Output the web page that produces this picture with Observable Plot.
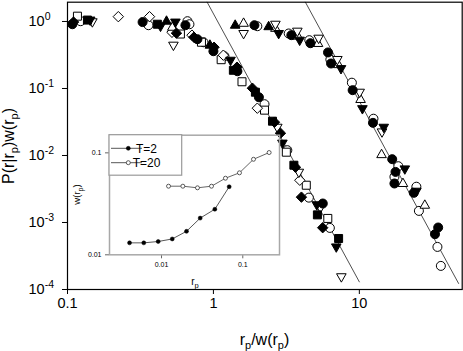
<!DOCTYPE html>
<html><head><meta charset="utf-8">
<script src="https://cdn.jsdelivr.net/npm/d3@7"></script>
<script src="https://cdn.jsdelivr.net/npm/@observablehq/plot@0.6"></script>
<style>
body{margin:0;background:#fff;}
#wrap{position:relative;width:463px;height:351px;overflow:hidden;}
#wrap svg{position:absolute;left:0;top:0;}
</style></head><body><div id="wrap"></div>
<script>
// ---- main data: [rp/w(rp), P(r|rp)w(rp)] ----
const filledCircle = [[0.108,0.91],[0.327,0.98],[0.643,0.88],[0.777,0.544],[1.0,0.36],[1.46,0.181],[2.05,0.074],[5.62,0.00192],
  [1.91,0.88],[3.42,0.625],[4.62,0.474],[6.1,0.345],[6.4,0.236],[9.0,0.0944],[12.4,0.0307],[16.8,0.00881],[17.7,0.00569],[17.4,0.00382],[23.6,0.00277],[34.7,0.000842],[33,0.000669]];
const openCircle = [[0.123,1.01],[0.359,0.88],[0.664,1.01],[0.685,0.91],[0.855,0.49],[1.19,0.303],[2.24,0.0583],[3.21,0.012],[4.51,0.00235],[6.28,0.00083],
  [2.0,0.85],[3.28,0.662],[4.54,0.526],[6.33,0.271],[8.89,0.122],[12.5,0.0354],[18.5,0.00692],[17.4,0.0048],[24.6,0.00342],[25.6,0.00149],[34.3,0.000432],[36.2,0.000225]];
const filledSquare = [[0.137,1.05],[0.413,0.91],[1.37,0.187],[1.94,0.088],[2.54,0.0325],[3.56,0.00716],[5.16,0.0013],[7.21,0.000577]];
const openSquare = [[0.117,1.2],[0.594,0.65],[0.828,0.49],[1.13,0.269],[1.57,0.126],[2.24,0.0475],[3.16,0.0112],[4.33,0.0036],[6.08,0.00115]];
const filledDiamond = [[0.110,0.98],[0.558,0.67],[0.735,0.583],[1.01,0.413],[1.45,0.208],[1.85,0.101],[2.62,0.0314],[2.88,0.0215],[3.65,0.00668],[4.01,0.00239],[5.61,0.000836]];
const openDiamond = [[0.223,1.18],[0.365,1.18],[0.52,0.69],[0.713,0.625],[1.17,0.314],[2.0,0.0508],[3.91,0.00427]];
const filledUp = [[0.477,1.01],[0.946,0.443],[1.41,0.88],[2.39,0.836]];
const openUp = [[0.523,0.82],[1.61,0.94],[2.66,0.79],[3.79,0.604],[5.21,0.47],[7.18,0.227],[10.2,0.0685],[14.2,0.0103],[19.9,0.00382],[28.1,0.00181]];
const filledDown = [[0.143,1.05],[0.434,0.85],[0.549,0.98],[1.31,0.264],[2.97,0.0153],[5.11,0.00184],[6.95,0.000432],
  [2.8,0.662],[3.9,0.526],[7.49,0.198],[10.5,0.05],[14.7,0.0264],[20.5,0.00631],[24.6,0.00293]];
const openDown = [[0.148,0.99],[0.532,0.443],[2.74,0.0264],[3.85,0.00563],[5.41,0.00166],[7.53,0.000155],
  [1.61,0.662],[2.66,0.91],[3.76,0.717],[5.26,0.563],[7.07,0.271],[10.05,0.088],[14.3,0.0225]];
// guide lines (slope -4), endpoints
const guideA_x = [0.906, 10], guideA_y = [1.94, 1.3e-4];
const guideB_x = [4.27, 47.9], guideB_y = [1.94, 1.23e-4];
// main ticks
const xTicks = [0.1, 1, 10], xTickLabels = ["0.1", "1", "10"];
const yTicks = [1e-4, 1e-3, 1e-2, 1e-1, 1], yTickExps = ["-4", "-3", "-2", "-1", "0"];
// ---- inset data: w(rp) vs rp ----
const insetRp_T2 = [0.00404, 0.00605, 0.0091, 0.01355, 0.0203, 0.0299, 0.0453, 0.068];
const insetW_T2  = [0.0131, 0.0131, 0.0135, 0.0143, 0.017, 0.0229, 0.028, 0.0465];
const insetRp_T20 = [0.0122, 0.0183, 0.0277, 0.0412, 0.0612, 0.091, 0.1355, 0.211];
const insetW_T20  = [0.0471, 0.0471, 0.0454, 0.0471, 0.0564, 0.0637, 0.0865, 0.1007];
const insetTicks = [0.01, 0.1], insetTickLabels = ["0.01", "0.1"];
const legendLabels = ["T=2", "T=20"];

const FF = '"Liberation Sans", Arial, Helvetica, sans-serif';
function sym(pts){return {draw(ctx,size){const s=Math.sqrt(size/Math.PI)/4.5;pts.forEach(([a,b],i)=>i?ctx.lineTo(a*s,b*s):ctx.moveTo(a*s,b*s));ctx.closePath();}};}
const SQ = sym([[-4,-4],[4,-4],[4,4],[-4,4]]);
const DI = sym([[0,-5.2],[5.2,0],[0,5.2],[-5.2,0]]);
const UP = sym([[0,-5.4],[4.8,3],[-4.8,3]]);
const DN = sym([[0,5.4],[4.8,-3],[-4.8,-3]]);
const series = [
  [openCircle,"circle",false],[openSquare,SQ,false],[openDiamond,DI,false],[openUp,UP,false],[openDown,DN,false],
  [filledCircle,"circle",true],[filledSquare,SQ,true],[filledDiamond,DI,true],[filledUp,UP,true],[filledDown,DN,true]
];
const X = d=>d[0], Y = d=>d[1];
const pairs = (a,b)=>a.map((v,i)=>[v,b[i]]);

const main = Plot.plot({
  width:463, height:351, marginLeft:67, marginTop:1.7, marginRight:1.3, marginBottom:62,
  style:{background:"transparent", fontFamily:FF, fontSize:"14.5px", overflow:"visible", color:"black"},
  x:{type:"log", domain:[0.1, 50.7]},
  y:{type:"log", domain:[1e-4, 1.94]},
  marks:[
    Plot.axisX({ticks:xTicks, tickFormat:d=>xTickLabels[xTicks.indexOf(d)], tickSize:5, tickPadding:3, label:null}),
    Plot.axisY({ticks:yTicks, tickFormat:d=>"10^"+yTickExps[yTicks.indexOf(d)], tickSize:5, tickPadding:34, textAnchor:"start", label:null}),
    Plot.line(pairs(guideA_x,guideA_y), {x:X, y:Y, stroke:"#222", strokeWidth:0.8}),
    Plot.line(pairs(guideB_x,guideB_y), {x:X, y:Y, stroke:"#222", strokeWidth:0.8}),
    ...series.map(([d,s,f])=>Plot.dot(d,{x:X, y:Y, symbol:s, r:4.5, fill:f?"black":"white", stroke:"black", strokeWidth:1})),
    Plot.frame({stroke:"black", strokeWidth:1.2})
  ]
});
document.getElementById("wrap").appendChild(main);

const inset = Plot.plot({
  width:463, height:351, marginLeft:109, marginTop:134.7, marginRight:184, marginBottom:96.7,
  style:{background:"transparent", fontFamily:FF, fontSize:"7px", overflow:"visible", color:"black"},
  x:{type:"log", domain:[0.00229, 0.283]},
  y:{type:"log", domain:[0.01, 0.149]},
  marks:[
    Plot.axisX({ticks:insetTicks, tickFormat:d=>insetTickLabels[insetTicks.indexOf(d)], tickSize:4, tickPadding:3, stroke:"#666", label:null}),
    Plot.axisY({ticks:insetTicks, tickFormat:d=>insetTickLabels[insetTicks.indexOf(d)], tickSize:4, tickPadding:4, stroke:"#666", label:null}),
    Plot.frame({stroke:"#a8a8a8", strokeWidth:1.5}),
    Plot.line(pairs(insetRp_T2,insetW_T2), {x:X, y:Y, stroke:"#444", strokeWidth:0.9}),
    Plot.dot(pairs(insetRp_T2,insetW_T2), {x:X, y:Y, r:2, fill:"black", stroke:"black", strokeWidth:0.5}),
    Plot.line(pairs(insetRp_T20,insetW_T20), {x:X, y:Y, stroke:"#555", strokeWidth:0.9}),
    Plot.dot(pairs(insetRp_T20,insetW_T20), {x:X, y:Y, r:2, fill:"white", stroke:"#333", strokeWidth:0.8})
  ]
});
document.getElementById("wrap").appendChild(inset);

// superscripts on y tick labels
d3.select(main).selectAll("text").each(function(){
  const t = this.textContent; const m = /^10\^(.+)$/.exec(t);
  if (m) { this.textContent = "10"; d3.select(this).append("tspan").attr("font-size", 10.5).attr("dy", -6).text(m[1]); }
});
function rich(sel, parts, small, shift){
  let prev=false;
  for (const [t,sub] of parts){
    const ts = sel.append("tspan").text(t);
    if (sub) ts.attr("font-size", small).attr("dy", prev?0:shift);
    else ts.attr("dy", prev?-shift:0);
    prev = sub;
  }
}
const ms = d3.select(main);
rich(ms.append("text").attr("x",264.5).attr("y",345).attr("text-anchor","middle").attr("font-size",16).attr("font-family",FF),
  [["r",false],["p",true],["/w(r",false],["p",true],[")",false]], 11, 4);
rich(ms.append("text").attr("transform","translate(14,146) rotate(-90)").attr("text-anchor","middle").attr("font-size",16).attr("font-family",FF),
  [["P(r|r",false],["p",true],[")w(r",false],["p",true],[")",false]], 11, 4);

const is = d3.select(inset);
rich(is.append("text").attr("x",195).attr("y",285).attr("text-anchor","middle").attr("font-size",10).attr("font-family",FF),
  [["r",false],["p",true]], 7.5, 3);
rich(is.append("text").attr("transform","translate(80,194.5) rotate(-90)").attr("text-anchor","middle").attr("font-size",9.5).attr("font-family",FF),
  [["w(r",false],["p",true],[")",false]], 7, 2.5);
// legend
const lg = is.append("g");
lg.append("rect").attr("x",109).attr("y",134.7).attr("width",72.7).attr("height",40.5).attr("fill","white").attr("stroke","#9a9a9a").attr("stroke-width",1.2);
legendLabels.forEach((lab,i)=>{
  const yy = 148.3 + i*14.4;
  lg.append("line").attr("x1",111).attr("x2",142).attr("y1",yy).attr("y2",yy).attr("stroke","#444").attr("stroke-width",0.9);
  lg.append("circle").attr("cx",128.3).attr("cy",yy).attr("r",2).attr("fill",i?"white":"black").attr("stroke",i?"#333":"black").attr("stroke-width",i?0.8:0.5);
  lg.append("text").attr("x",146.5).attr("y",yy+4.3).attr("font-size",12).attr("font-family",FF).text(lab);
});
</script></body></html>
